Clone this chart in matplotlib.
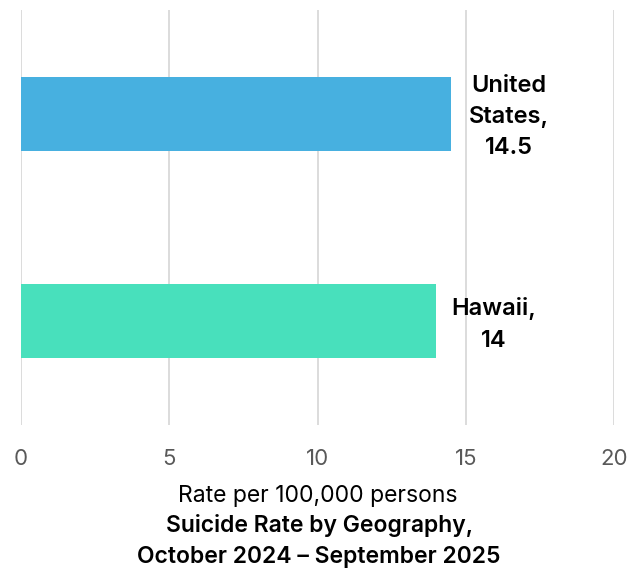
import matplotlib.pyplot as plt

# --- DATA ---
geografias = ["Hawaii", "United States"]
tasas = [14, 14.5]
etiquetas = ["Hawaii,\n14", "United\nStates,\n14.5"]
colores = ["#48E0BC", "#47B0E0"]
ticks_x = [0, 5, 10, 15, 20]

plt.rcParams['font.family'] = ['Inter', 'DejaVu Sans']

fig = plt.figure(figsize=(6.38, 5.73), dpi=100)
ax = fig.add_axes([0.033, 0.258, 0.9295, 0.7245])

pos = range(len(geografias))
ax.barh(pos, tasas, height=0.357, color=colores, zorder=2)

# etiquetas de valor a la derecha de cada barra
for p, v, txt in zip(pos, tasas, etiquetas):
    ax.annotate(txt, (v + 1.95, p), xytext=(0, -2.2), textcoords='offset points',
                ha='center', va='center', fontsize=17,
                fontweight='semibold', linespacing=1.55, color='black')

ax.set_xlim(0, 20)
ax.set_ylim(-0.5, 1.5)
ax.set_xticks(ticks_x)
ax.set_yticks([])
ax.grid(axis='x', color='#d9d9d9', linewidth=1.3, zorder=0)
for s in ax.spines.values():
    s.set_visible(False)
ax.tick_params(axis='x', length=0, pad=17, labelsize=16, labelcolor='#595959')

ax.set_xlabel('Rate per 100,000 persons', fontsize=16.5, labelpad=12)
fig.text(0.5, 0.056, 'Suicide Rate by Geography,\nOctober 2024 – September 2025',
         ha='center', va='center', fontsize=16.5, fontweight='semibold', linespacing=1.5)

plt.savefig('out.png', dpi=100)
plt.close()
